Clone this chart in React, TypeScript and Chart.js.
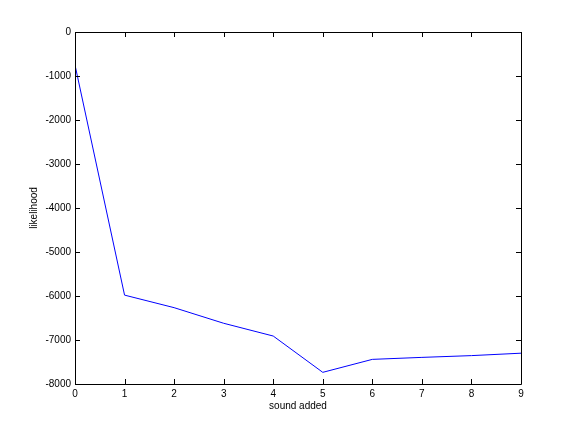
import React, { useEffect, useRef } from "react";
import { Chart, registerables } from "chart.js";

Chart.register(...registerables);

const xValues = [0, 1, 2, 3, 4, 5, 6, 7, 8, 9];
const likelihood = [-750, -5980, -6265, -6620, -6910, -7735, -7440, -7395, -7355, -7300];
const xTitle = "sound added";
const yTitle = "likelihood";

const FONT = "'Liberation Sans', Arial, Helvetica, sans-serif";

const boxTicks = {
  id: "boxTicks",
  afterDraw(chart: any) {
    const { ctx, chartArea, scales } = chart;
    const { left, right, top, bottom } = chartArea;
    const len = 5;
    ctx.save();
    ctx.strokeStyle = "#000";
    ctx.lineWidth = 1;
    ctx.beginPath();
    ctx.rect(Math.round(left) + 0.5, Math.round(top) + 0.5, Math.round(right - left), Math.round(bottom - top));
    scales.x.ticks.forEach((t: any) => {
      const px = Math.round(scales.x.getPixelForValue(t.value)) + 0.5;
      ctx.moveTo(px, bottom);
      ctx.lineTo(px, bottom - len);
      ctx.moveTo(px, top);
      ctx.lineTo(px, top + len);
    });
    scales.y.ticks.forEach((t: any) => {
      const py = Math.round(scales.y.getPixelForValue(t.value)) + 0.5;
      ctx.moveTo(left, py);
      ctx.lineTo(left + len, py);
      ctx.moveTo(right, py);
      ctx.lineTo(right - len, py);
    });
    ctx.stroke();
    ctx.restore();
  },
};

export default function App() {
  const ref = useRef<HTMLCanvasElement>(null);
  useEffect(() => {
    if (!ref.current) return;
    const chart = new Chart(ref.current, {
      type: "line",
      data: {
        datasets: [
          {
            data: xValues.map((x, i) => ({ x, y: likelihood[i] })),
            borderColor: "#0000ff",
            borderWidth: 1,
            pointRadius: 0,
            tension: 0,
            fill: false,
          },
        ],
      },
      options: {
        responsive: false,
        animation: false,
        layout: { padding: { top: 32, right: 55, left: 0, bottom: 0 } },
        plugins: { legend: { display: false }, tooltip: { enabled: false } },
        scales: {
          x: {
            type: "linear",
            min: 0,
            max: 9,
            ticks: { stepSize: 1, color: "#000", padding: 4, font: { family: FONT, size: 10 } },
            grid: { display: false, drawTicks: false },
            border: { display: false },
            title: { display: true, text: xTitle, color: "#000", font: { family: FONT, size: 10 }, padding: { bottom: 20, top: 0 } },
            afterFit: (s: any) => { s.height = 48; },
          },
          y: {
            min: -8000,
            max: 0,
            ticks: { stepSize: 1000, color: "#000", padding: 4, font: { family: FONT, size: 10 }, callback: (v: any) => String(v) },
            grid: { display: false, drawTicks: false },
            border: { display: false },
            title: { display: true, text: yTitle, color: "#000", font: { family: FONT, size: 10 }, padding: { top: 28, bottom: 0 } },
            afterFit: (s: any) => { s.width = 75; },
          },
        },
      },
      plugins: [boxTicks],
    });
    return () => chart.destroy();
  }, []);
  return (
    <canvas
      ref={ref}
      width={576}
      height={432}
      style={{ position: "absolute", left: 0, top: 0, width: 576, height: 432, background: "#fff" }}
    />
  );
}
